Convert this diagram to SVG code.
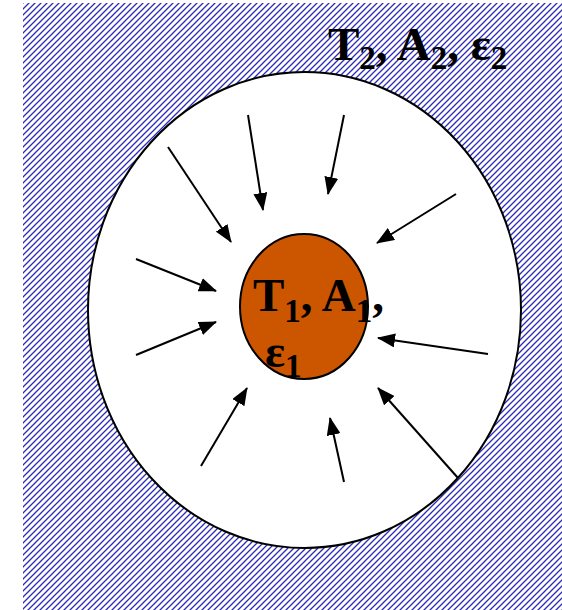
<svg xmlns="http://www.w3.org/2000/svg" width="562" height="610" viewBox="0 0 562 610">
<style>
.arr{stroke:#000;stroke-width:2;fill:none;marker-end:url(#ah)}
.lbl{font-family:"Liberation Serif","Times New Roman",serif;font-weight:bold;font-size:47px;fill:#000}
.sub{font-size:33px}
</style>
<defs>
<pattern id="hatch" patternUnits="userSpaceOnUse" x="23" y="3" width="6" height="6">
<rect width="6" height="6" fill="#fff"/>
<path d="M-1.5,1.5 L1.5,-1.5 M0,6 L6,0 M4.5,7.5 L7.5,4.5" stroke="#2b2bb8" stroke-width="1.3"/>
</pattern>
<marker id="ah" viewBox="0 0 18 14" refX="17" refY="7" markerWidth="18" markerHeight="14" markerUnits="userSpaceOnUse" orient="auto">
<path d="M0,0 L18,7 L0,14 Z" fill="#000"/>
</marker>
</defs>
<rect id="background" x="23" y="3" width="539" height="607" fill="url(#hatch)"/>
<g id="outer">
<ellipse cx="304.5" cy="310" rx="216.5" ry="238" fill="#fff" stroke="#000" stroke-width="2"/>
<text class="lbl" x="328" y="60">T<tspan class="sub" dy="9">2</tspan><tspan dy="-9">, A</tspan><tspan class="sub" dy="9">2</tspan><tspan dy="-9">, ε</tspan><tspan class="sub" dy="9">2</tspan></text>
</g>
<g id="connectors">
<line class="arr" x1="168" y1="147" x2="231" y2="242"/>
<line class="arr" x1="248" y1="115" x2="263" y2="210"/>
<line class="arr" x1="344" y1="115" x2="328" y2="194"/>
<line class="arr" x1="456" y1="194" x2="377" y2="243"/>
<line class="arr" x1="136" y1="259" x2="216" y2="291"/>
<line class="arr" x1="136" y1="355" x2="216" y2="322"/>
<line class="arr" x1="488" y1="354" x2="378" y2="338"/>
<line class="arr" x1="201" y1="466" x2="247" y2="388"/>
<line class="arr" x1="344" y1="482" x2="330" y2="418"/>
<line class="arr" x1="458" y1="478" x2="378" y2="388"/>
</g>
<g id="inner">
<ellipse cx="304" cy="306.5" rx="64" ry="72.5" fill="#cc5500" stroke="#000" stroke-width="2"/>
<text class="lbl" x="253" y="311">T<tspan class="sub" dy="11">1</tspan><tspan dy="-11">, A</tspan><tspan class="sub" dy="11">1</tspan><tspan dy="-11">,</tspan></text>
<text class="lbl" x="265" y="367">ε<tspan class="sub" dy="10">1</tspan></text>
</g>
</svg>
